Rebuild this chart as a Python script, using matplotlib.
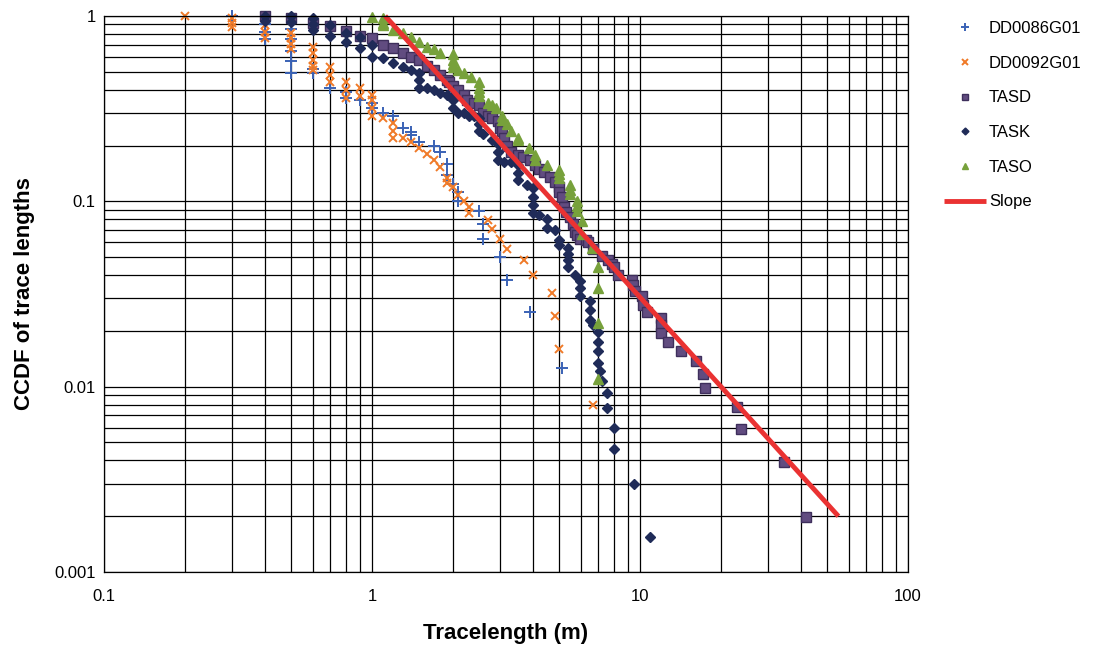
import numpy as np
import matplotlib.pyplot as plt
from matplotlib.ticker import LogLocator, NullFormatter, FuncFormatter

plt.rcParams['font.family'] = ['Liberation Sans', 'DejaVu Sans']

# (trace length [m], CCDF)
dd0086g01 = [(0.3, 1.0), (0.4, 0.9), (0.4, 0.82), (0.4, 0.75), (0.5, 0.85), (0.5, 0.75),
             (0.5, 0.65), (0.5, 0.57), (0.5, 0.49), (0.6, 0.52), (0.6, 0.49), (0.7, 0.41),
             (0.8, 0.39), (0.8, 0.36), (0.9, 0.35), (1.0, 0.34), (1.0, 0.32), (1.1, 0.30),
             (1.2, 0.29), (1.3, 0.25), (1.4, 0.237), (1.4, 0.228), (1.5, 0.21), (1.7, 0.2),
             (1.8, 0.185), (1.9, 0.16), (1.9, 0.138), (2.0, 0.124), (2.1, 0.112), (2.1, 0.1),
             (2.5, 0.089), (2.6, 0.075), (2.6, 0.063), (3.0, 0.05), (3.2, 0.0376),
             (3.9, 0.0253), (5.1, 0.0126)]

dd0092g01 = [(0.2, 1.0), (0.3, 0.98), (0.3, 0.92), (0.3, 0.87), (0.4, 0.89), (0.4, 0.82),
             (0.4, 0.76), (0.5, 0.81), (0.5, 0.76), (0.5, 0.71), (0.5, 0.66), (0.6, 0.68),
             (0.6, 0.63), (0.6, 0.58), (0.6, 0.54), (0.6, 0.51), (0.7, 0.53), (0.7, 0.48),
             (0.7, 0.44), (0.8, 0.44), (0.8, 0.4), (0.8, 0.36), (0.9, 0.41), (0.9, 0.37),
             (1.0, 0.375), (1.0, 0.35), (1.0, 0.32), (1.0, 0.29), (1.1, 0.28), (1.2, 0.265),
             (1.2, 0.24), (1.2, 0.22), (1.3, 0.22), (1.4, 0.21), (1.5, 0.194), (1.6, 0.18),
             (1.7, 0.167), (1.8, 0.153), (1.9, 0.134), (1.9, 0.126), (2.0, 0.12), (2.1, 0.108),
             (2.2, 0.1), (2.3, 0.093), (2.3, 0.087), (2.7, 0.079), (2.8, 0.071), (3.0, 0.063),
             (3.2, 0.055), (3.7, 0.048), (4.0, 0.040), (4.7, 0.032), (4.8, 0.024), (5.0, 0.016),
             (6.7, 0.008)]

tasd = [(0.4, 1.0), (0.5, 0.97), (0.6, 0.92), (0.7, 0.88), (0.8, 0.83), (0.9, 0.78),
        (1.0, 0.76), (1.1, 0.70), (1.2, 0.67), (1.3, 0.63), (1.4, 0.60), (1.5, 0.58),
        (1.6, 0.54), (1.7, 0.51), (1.8, 0.48), (1.9, 0.45), (1.93, 0.44), (2.0, 0.42),
        (2.1, 0.40), (2.2, 0.375), (2.27, 0.35), (2.4, 0.34), (2.5, 0.33), (2.6, 0.30),
        (2.7, 0.29), (2.8, 0.28), (2.95, 0.27), (3.0, 0.25), (3.05, 0.24), (3.1, 0.22),
        (3.2, 0.20), (3.3, 0.185), (3.5, 0.178), (3.65, 0.174), (3.9, 0.167), (4.05, 0.157),
        (4.2, 0.15), (4.4, 0.144), (4.6, 0.135), (4.8, 0.127), (5.0, 0.12), (5.0, 0.112),
        (5.1, 0.105), (5.2, 0.093), (5.3, 0.088), (5.5, 0.082), (5.6, 0.075), (5.7, 0.068),
        (5.8, 0.066), (5.95, 0.063), (6.3, 0.062), (6.4, 0.06), (6.7, 0.055), (7.2, 0.051),
        (7.6, 0.048), (7.85, 0.046), (8.0, 0.044), (8.3, 0.040), (9.3, 0.0376), (9.4, 0.0355),
        (9.6, 0.033), (10.2, 0.031), (10.3, 0.0276), (10.6, 0.0253), (12.0, 0.0235),
        (12.0, 0.0216), (12.0, 0.0194), (12.7, 0.0175), (14.2, 0.0156), (16.2, 0.0138),
        (17.2, 0.0117), (17.5, 0.0098), (23.0, 0.0078), (23.9, 0.0059), (34.5, 0.0039),
        (41.8, 0.00197)]

task = [(0.4, 1.0), (0.4, 0.94), (0.5, 1.0), (0.5, 0.93), (0.6, 0.97), (0.6, 0.9), (0.6, 0.84),
        (0.7, 0.89), (0.7, 0.78), (0.8, 0.81), (0.8, 0.72), (0.9, 0.77), (0.9, 0.67),
        (1.0, 0.7), (1.0, 0.6), (1.1, 0.59), (1.2, 0.56), (1.3, 0.53), (1.4, 0.51),
        (1.5, 0.49), (1.5, 0.45), (1.5, 0.41), (1.6, 0.41), (1.7, 0.40), (1.8, 0.385),
        (1.9, 0.375), (2.0, 0.375), (2.0, 0.35), (2.0, 0.32), (2.1, 0.30), (2.2, 0.30),
        (2.3, 0.29), (2.4, 0.29), (2.5, 0.28), (2.5, 0.26), (2.5, 0.24), (2.6, 0.23),
        (2.8, 0.215), (2.95, 0.205), (2.95, 0.185), (2.95, 0.167), (3.1, 0.163), (3.3, 0.163),
        (3.5, 0.157), (3.5, 0.143), (3.5, 0.13), (3.8, 0.122), (4.0, 0.118), (4.0, 0.105),
        (4.0, 0.095), (4.0, 0.087), (4.2, 0.084), (4.5, 0.08), (4.5, 0.072), (4.8, 0.07),
        (5.0, 0.062), (5.0, 0.058), (5.4, 0.056), (5.4, 0.052), (5.4, 0.048), (5.4, 0.044),
        (5.7, 0.04), (5.95, 0.037), (5.95, 0.034), (5.95, 0.031), (6.5, 0.029), (6.5, 0.026),
        (6.5, 0.023), (6.7, 0.0215), (7.0, 0.0197), (7.0, 0.0175), (7.0, 0.0155),
        (7.0, 0.0135), (7.1, 0.0122), (7.2, 0.0107), (7.5, 0.0092), (7.5, 0.0077),
        (8.0, 0.006), (8.0, 0.0046), (9.5, 0.003), (10.9, 0.00154)]

taso = [(1.0, 0.99), (1.1, 0.97), (1.1, 0.92), (1.1, 0.89), (1.2, 0.84), (1.3, 0.81),
        (1.4, 0.77), (1.5, 0.72), (1.6, 0.68), (1.7, 0.66), (1.8, 0.63), (2.0, 0.62),
        (2.0, 0.58), (2.0, 0.55), (2.0, 0.53), (2.1, 0.51), (2.2, 0.49), (2.35, 0.47),
        (2.5, 0.44), (2.5, 0.41), (2.5, 0.39), (2.5, 0.37), (2.7, 0.34), (2.8, 0.33),
        (2.9, 0.32), (3.05, 0.29), (3.05, 0.275), (3.2, 0.26), (3.3, 0.24), (3.5, 0.22),
        (3.5, 0.213), (3.85, 0.193), (4.05, 0.178), (4.05, 0.167), (4.5, 0.157),
        (5.0, 0.147), (5.0, 0.14), (5.0, 0.134), (5.5, 0.122), (5.5, 0.115), (5.5, 0.11),
        (5.8, 0.1), (5.8, 0.094), (5.8, 0.089), (6.05, 0.078), (6.05, 0.067), (6.6, 0.056),
        (7.0, 0.044), (7.0, 0.034), (7.0, 0.022), (7.0, 0.011)]

slope_x = [1.12, 55.0]
slope_y = [1.0, 0.002]


def xy(pts):
    a = np.array(pts)
    return a[:, 0], a[:, 1]


fig = plt.figure(figsize=(10.97, 6.48), dpi=100)
ax = fig.add_axes([104 / 1097, 1 - 572 / 648, 804 / 1097, 556 / 648])

x, y = xy(dd0086g01)
ax.plot(x, y, ls='none', marker='+', ms=8, mew=1.4, color='#3a62b5', label='DD0086G01',
        clip_on=False)
x, y = xy(dd0092g01)
ax.plot(x, y, ls='none', marker='x', ms=6, mew=1.4, color='#f07a28', label='DD0092G01',
        clip_on=False)
x, y = xy(tasd)
ax.plot(x, y, ls='none', marker='s', ms=6.8, mew=1.0, color='#614c80', mec='#3e2f5c',
        label='TASD', clip_on=False)
x, y = xy(task)
ax.plot(x, y, ls='none', marker='D', ms=5, color='#1f2b58', label='TASK', clip_on=False)
x, y = xy(taso)
ax.plot(x, y, ls='none', marker='^', ms=7, color='#77a13b', label='TASO', clip_on=False)
ax.plot(slope_x, slope_y, color='#ea3232', lw=3.5, label='Slope', solid_capstyle='butt',
        clip_on=False)

ax.set_xscale('log')
ax.set_yscale('log')
ax.set_xlim(0.1, 100)
ax.set_ylim(0.001, 1)

fmt = FuncFormatter(lambda v, p: '%g' % v)
ax.xaxis.set_major_formatter(fmt)
ax.yaxis.set_major_formatter(fmt)
for axis in (ax.xaxis, ax.yaxis):
    axis.set_minor_locator(LogLocator(base=10, subs=np.arange(2, 10)))
    axis.set_minor_formatter(NullFormatter())

ax.grid(which='both', color='black', lw=0.9)
ax.set_axisbelow(True)
ax.tick_params(which='both', length=0, labelsize=12)
ax.tick_params(axis='x', pad=12)
ax.tick_params(axis='y', pad=6)
for s in ax.spines.values():
    s.set_color('black')
    s.set_linewidth(0.9)

ax.set_xlabel('Tracelength (m)', fontsize=16, fontweight='bold', labelpad=14)
ax.set_ylabel('CCDF of trace lengths', fontsize=16, fontweight='bold', labelpad=14)

ax.legend(loc='upper left', bbox_to_anchor=(944 / 1097, 1 - 21 / 648),
          bbox_transform=fig.transFigure, frameon=False, fontsize=12,
          handlelength=2.5, handletextpad=0.2, labelspacing=1.18,
          borderpad=0, borderaxespad=0, markerscale=0.7)

fig.savefig('out.png', dpi=100)
